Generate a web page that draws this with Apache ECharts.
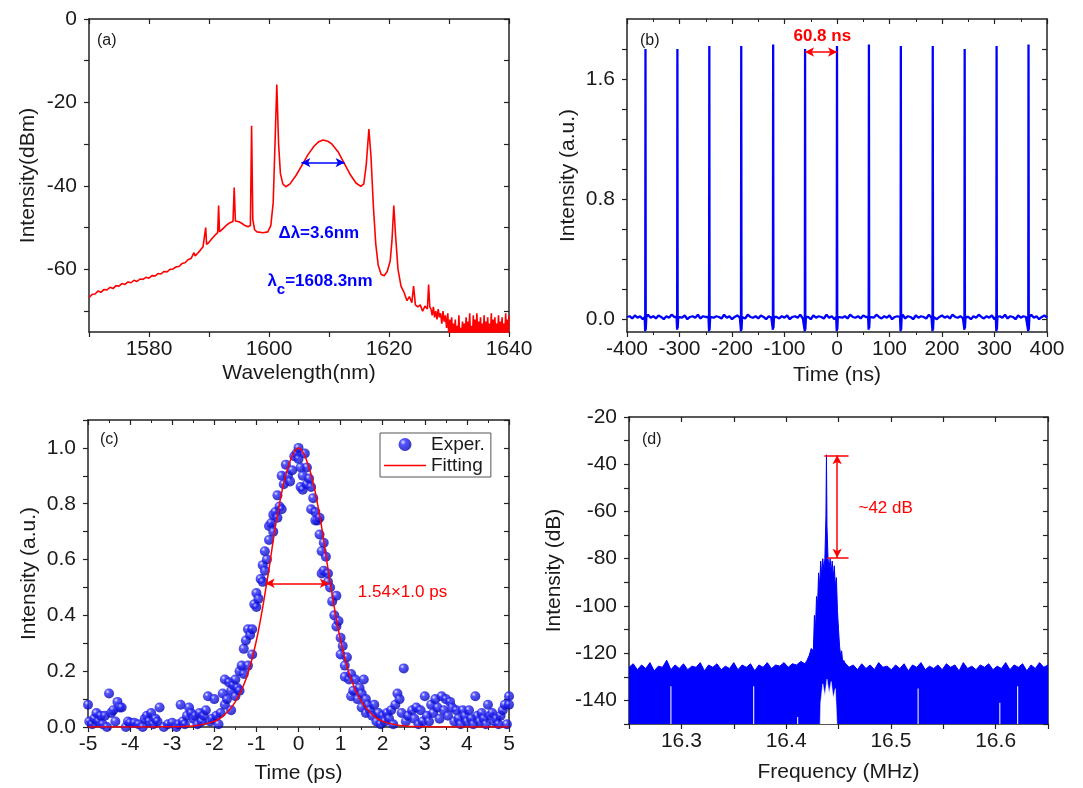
<!DOCTYPE html>
<html><head><meta charset="utf-8">
<script src="https://cdn.jsdelivr.net/npm/echarts@6/dist/echarts.min.js"></script>
<style>html,body{margin:0;padding:0;background:#fff}#c{width:1083px;height:788px}</style>
</head><body><div id="c"></div>
<script>
// ===== Panel (a): optical spectrum [wavelength nm, dBm] =====
const spectrumA = [
[1570,-66.8],[1570.5,-66.0],[1571,-65.9],[1571.5,-65.2],[1572,-65.5],[1572.5,-64.8],[1573,-64.9],[1573.5,-64.3],
[1574,-64.6],[1574.5,-63.9],[1575,-64.0],[1575.5,-63.4],[1576,-63.6],[1576.5,-63.0],[1577,-63.2],[1577.5,-62.6],
[1578,-62.9],[1578.5,-62.3],[1579,-62.4],[1579.5,-61.9],[1580,-62.1],[1580.5,-61.5],[1581,-61.6],[1581.5,-61.0],
[1582,-61.1],[1582.5,-60.5],[1583,-60.6],[1583.5,-60.0],[1584,-59.9],[1584.5,-59.4],[1585,-59.3],[1585.5,-58.6],
[1586,-58.4],[1586.5,-57.7],[1587,-57.4],[1587.5,-56.0],[1587.7,-56.8],[1588,-56.3],[1588.5,-55.5],[1589,-54.6],
[1589.3,-54.2],[1589.45,-50.0],[1589.6,-54.0],[1590,-53.5],[1590.5,-52.6],[1591,-51.8],[1591.45,-51.2],[1591.6,-44.7],
[1591.75,-51.0],[1592,-50.8],[1592.5,-50.0],[1593,-49.3],[1593.5,-48.8],[1594,-48.5],[1594.2,-40.4],[1594.4,-48.4],
[1595,-48.6],[1595.5,-49.0],[1596,-49.5],[1596.5,-49.8],[1596.9,-49.5],[1597.1,-25.6],[1597.3,-48.0],[1597.6,-50.5],
[1598,-51.0],[1599,-51.2],[1599.8,-51.0],[1600.3,-49.5],[1600.7,-44.0],[1601.0,-30.0],[1601.3,-15.7],[1601.6,-30.0],
[1601.9,-37.0],[1602.3,-39.5],[1602.8,-40.2],[1603.5,-39.5],[1604.5,-37.5],[1605.5,-35.0],[1606.5,-32.5],[1607.5,-30.5],
[1608.3,-29.4],[1609,-29.0],[1609.8,-29.3],[1610.5,-30.0],[1611.5,-31.8],[1612.5,-34.5],[1613.5,-37.2],[1614.5,-39.3],
[1615.3,-40.1],[1615.8,-39.5],[1616.2,-35.0],[1616.65,-26.4],[1617.0,-33.0],[1617.4,-45.0],[1617.8,-54.0],[1618.2,-59.0],
[1618.7,-61.2],[1619.2,-61.5],[1619.7,-60.5],[1620.2,-58.0],[1620.5,-53.0],[1620.8,-44.7],[1621.1,-52.0],[1621.5,-60.0],
[1622,-64.0],[1622.5,-65.5],[1623,-67.5],[1623.4,-66.5],[1623.8,-68.0],[1624.1,-64.0],[1624.4,-68.5],[1624.8,-69.0],
[1625.2,-68.5],[1625.6,-70.0],[1626,-68.8],[1626.4,-69.5],[1626.6,-63.6],[1626.8,-69.0],
[1627.0,-69.5],[1627.2,-71],[1627.4,-69],[1627.6,-71.5],[1627.8,-70],[1628.0,-72],[1628.2,-69.5],[1628.4,-71.5],
[1628.6,-70.5],[1628.8,-73],[1629.0,-70],[1629.2,-72.5],[1629.4,-71],[1629.6,-74],[1629.8,-70.5],[1630.0,-77],
[1630.15,-72],[1630.3,-76.5],[1630.45,-71.5],[1630.6,-77],[1630.75,-73],[1630.9,-76],[1631.05,-72],[1631.2,-77],
[1631.35,-73.5],[1631.5,-76.5],[1631.65,-71],[1631.8,-77],[1631.95,-74],[1632.1,-76],[1632.25,-72.5],[1632.4,-77],
[1632.55,-73],[1632.7,-76.5],[1632.85,-71.5],[1633.0,-77],[1633.15,-72.5],[1633.3,-76],[1633.45,-70.5],[1633.6,-77],
[1633.75,-73.5],[1633.9,-76.5],[1634.05,-71],[1634.2,-77],[1634.35,-72],[1634.5,-76],[1634.65,-70.5],[1634.8,-77],
[1634.95,-72.5],[1635.1,-76.5],[1635.25,-71.5],[1635.4,-77],[1635.55,-73],[1635.7,-76],[1635.85,-71],[1636.0,-77],
[1636.15,-72.5],[1636.3,-76.5],[1636.45,-71.5],[1636.6,-77],[1636.75,-73],[1636.9,-76],[1637.05,-70.5],[1637.2,-77],
[1637.35,-72],[1637.5,-76.5],[1637.65,-71.5],[1637.8,-77],[1637.95,-73],[1638.1,-76],[1638.25,-71],[1638.4,-77],
[1638.55,-72.5],[1638.7,-76.5],[1638.85,-71.5],[1639.0,-77],[1639.15,-73],[1639.3,-76],[1639.45,-70.5],[1639.6,-77],
[1639.75,-72],[1639.9,-76.5],[1640,-71]
];
const aXTicks = [1570,1580,1590,1600,1610,1620,1630,1640];
const aXLabels = [1580,1600,1620,1640];
const aYTicks = [-70,-60,-50,-40,-30,-20,-10,0];
const aYLabels = [-60,-40,-20,0];
const aBandwidth = [1605.4,1612.6,-34.4];   // FWHM arrow: from, to, level

// ===== Panel (b): pulse train =====
const pulseTimes   = [-364.8,-304,-243.2,-182.4,-121.6,-60.8,0,60.8,121.6,182.4,243.2,304,364.8];
const pulseHeights = [1.80,1.80,1.82,1.82,1.83,1.80,1.82,1.83,1.82,1.82,1.80,1.82,1.83];
const pulseFloor   = [-0.08,-0.07,-0.08,-0.08,-0.07,-0.08,-0.08,-0.07,-0.08,-0.08,-0.07,-0.08,-0.08];
const baselineB = [
0.015,0.02,0.005,0.025,0.01,0.02,0.0,0.015,0.03,0.01,
0.02,0.005,0.025,0.015,0.0,0.02,0.01,0.03,0.015,0.005,
0.02,0.01,0.025,0.0,0.015,0.02,0.01,0.03,0.005,0.02,
0.015,0.0,0.025,0.01,0.02,0.015,0.005,0.03,0.01,0.02,
0.0,0.015,0.025,0.01,0.02,0.005,0.03,0.015,0.01,0.02,
0.005,0.025,0.015,0.0,0.02,0.01,0.03,0.015,0.005,0.02,
0.01,0.025,0.0,0.015,0.02,0.01,0.03,0.005,0.02,0.015,
0.0,0.025,0.01,0.02,0.015,0.005,0.03,0.01,0.02,0.0,
0.015,0.025,0.01,0.02,0.005,0.03,0.015,0.01,0.02,0.005,
0.025,0.015,0.0,0.02,0.01,0.03,0.015,0.005,0.02,0.01,
0.025,0.0,0.015,0.02,0.01,0.03,0.005,0.02,0.015,0.0,
0.025,0.01,0.02,0.015,0.005,0.03,0.01,0.02,0.0,0.015,
0.025,0.01,0.02,0.005,0.03,0.015,0.01,0.02,0.005,0.025,
0.015,0.0,0.02,0.01,0.03,0.015,0.005,0.02,0.01,0.025,
0.0,0.015,0.02,0.01,0.03,0.005,0.02,0.015,0.0,0.025,
0.01,0.02,0.015,0.005,0.03,0.01,0.02,0.0,0.015,0.025,0.01];
const bYTicks = [0,0.2,0.4,0.6,0.8,1.0,1.2,1.4,1.6,1.8];
const bYLabels = [0,0.8,1.6];
const bPeriod = [-60.8,0,1.78];

// ===== Panel (c): autocorrelation =====
const acScatter = [
[-5.0,0.08],[-4.97,0.02],[-4.9,0.01],[-4.85,0.03],[-4.8,0.05],[-4.75,0.02],[-4.7,0.04],[-4.65,0.01],[-4.6,0.04],[-4.55,0.0],
[-4.5,0.12],[-4.45,0.05],[-4.4,0.06],[-4.35,0.02],[-4.3,0.09],[-4.25,0.07],[-4.2,0.07],[-4.1,0.0],[-4.05,0.02],[-4.0,0.015],
[-3.9,0.015],[-3.8,0.01],[-3.7,0.0],[-3.65,0.03],[-3.6,0.04],[-3.55,0.02],[-3.5,0.05],[-3.45,0.01],[-3.4,0.03],[-3.35,0.02],
[-3.3,0.07],[-3.2,0.0],[-3.1,0.01],[-3.0,0.015],[-2.9,0.0],[-2.85,0.01],[-2.8,0.08],[-2.75,0.02],[-2.7,0.01],[-2.65,0.04],
[-2.6,0.07],[-2.55,0.05],[-2.5,0.03],[-2.45,0.04],[-2.4,0.01],[-2.35,0.05],[-2.3,0.02],[-2.25,0.04],[-2.2,0.06],[-2.15,0.11],
[-2.1,0.02],[-2.05,0.03],[-2.0,0.10],[-1.95,0.04],[-1.9,0.01],
[-1.85,0.05],[-1.8,0.12],[-1.75,0.17],[-1.75,0.08],[-1.7,0.10],[-1.65,0.16],[-1.6,0.13],[-1.6,0.06],[-1.55,0.15],[-1.5,0.17],
[-1.5,0.11],[-1.45,0.14],[-1.4,0.20],[-1.4,0.13],[-1.35,0.22],[-1.3,0.19],[-1.3,0.28],[-1.25,0.31],[-1.2,0.35],[-1.2,0.22],
[-1.15,0.33],[-1.1,0.26],[-1.1,0.35],[-1.05,0.44],[-1.0,0.48],[-1.0,0.43],[-0.95,0.46],[-0.9,0.53],[-0.85,0.52],[-0.85,0.58],
[-0.8,0.63],[-0.8,0.56],[-0.75,0.60],[-0.7,0.67],[-0.7,0.72],[-0.65,0.73],[-0.6,0.70],[-0.6,0.76],[-0.55,0.77],[-0.5,0.83],
[-0.5,0.75],[-0.45,0.79],[-0.4,0.78],[-0.4,0.90],[-0.35,0.87],[-0.3,0.94],[-0.25,0.90],[-0.2,0.88],[-0.15,0.92],[-0.1,0.97],
[-0.05,0.98],[0.0,1.0],[0.0,0.96],[0.05,0.93],[0.05,0.86],[0.1,0.90],[0.1,0.85],[0.15,0.98],[0.2,0.93],[0.2,0.87],
[0.25,0.89],[0.3,0.78],[0.3,0.86],[0.35,0.82],[0.4,0.77],[0.4,0.74],[0.45,0.74],[0.5,0.75],[0.5,0.69],[0.55,0.63],
[0.55,0.55],[0.6,0.66],[0.6,0.56],[0.65,0.61],[0.7,0.55],[0.7,0.52],[0.75,0.50],[0.8,0.45],[0.85,0.40],[0.9,0.36],
[0.9,0.47],[0.95,0.38],[1.0,0.32],[1.0,0.26],[1.05,0.29],[1.1,0.22],[1.1,0.18],[1.15,0.25],[1.2,0.17],[1.25,0.19],
[1.25,0.11],[1.3,0.13],[1.35,0.17],[1.4,0.10],[1.45,0.14],[1.5,0.12],[1.5,0.07],[1.55,0.17],[1.6,0.10],[1.6,0.05],
[1.65,0.08],[1.7,0.06],[1.75,0.04],[1.8,0.08],[1.85,0.02],[1.9,0.05],[1.95,0.01],
[2.0,0.04],[2.05,0.02],[2.1,0.05],[2.15,0.03],[2.2,0.06],[2.25,0.01],[2.3,0.08],[2.35,0.12],[2.4,0.10],[2.45,0.05],
[2.5,0.21],[2.55,0.02],[2.6,0.04],[2.7,0.06],[2.75,0.03],[2.8,0.07],[2.85,0.01],[2.9,0.06],[2.95,0.02],[3.0,0.11],
[3.05,0.04],[3.1,0.02],[3.15,0.08],[3.2,0.05],[3.25,0.10],[3.3,0.07],[3.35,0.03],[3.4,0.11],[3.45,0.06],[3.5,0.10],
[3.55,0.04],[3.6,0.09],[3.65,0.07],[3.7,0.02],[3.75,0.06],[3.8,0.03],[3.85,0.01],[3.9,0.06],[3.95,0.04],[4.0,0.02],
[4.05,0.06],[4.1,0.03],[4.15,0.01],[4.2,0.11],[4.25,0.04],[4.3,0.02],[4.35,0.05],[4.4,0.03],[4.45,0.01],[4.5,0.08],
[4.55,0.04],[4.6,0.05],[4.65,0.02],[4.7,0.03],[4.75,0.01],[4.8,0.04],[4.85,0.06],[4.9,0.08],[4.95,0.01],[5.0,0.11],[5.0,0.08]
];
const fitTime  = [-5,-4,-3,-2.5,-2,-1.75,-1.5,-1.25,-1,-0.75,-0.5,-0.25,0,0.25,0.5,0.75,1,1.25,1.5,1.75,2,2.5,3,4,5];
const fitValue = [0,0,0.001,0.004,0.02,0.045,0.09,0.17,0.31,0.52,0.76,0.93,1.0,0.93,0.76,0.52,0.31,0.17,0.09,0.045,0.02,0.004,0.001,0,0];
const cYTicks = [0,0.1,0.2,0.3,0.4,0.5,0.6,0.7,0.8,0.9,1.0,1.1];
const cYLabels = [0,0.2,0.4,0.6,0.8,1.0];
const cWidth = [-0.78,0.72,0.515];

// ===== Panel (d): RF spectrum =====
const floorLeftVals = [-126,-124.5,-127,-125,-126.5,-124,-127.5,-125.5,-126,-123,-127,-125,-126.5,-124.5,-127,-125.5,-126,-124,
-127.5,-125,-126,-124.5,-127,-125.5,-126.5,-124,-127,-125,-126,-124.5,-127.5,-125,-126,-124,-126.5,-125,-125.5,-124,-126,-124.5,-125,-123.5,-124.5];
const floorRightVals = [-124,-126,-125,-127,-124.5,-126.5,-125,-127,-124,-126,-125.5,-127,-125,-126.5,-124.5,-127.5,-125,-126,-124,
-127,-125.5,-126.5,-125,-127,-124.5,-126,-125,-127.5,-124,-126.5,-125.5,-127,-125,-126,-124.5,-127,-125.5,-126.5,-124,-127,-125,-126,-124.5,-127.5,-125,-126.5,-124,-126,-125];
const rfPeak = [[16.420,-123],[16.422,-121],[16.424,-118],[16.426,-119],[16.427,-104],[16.428,-110],[16.429,-96],[16.430,-100],
[16.431,-86],[16.432,-92],[16.433,-81],[16.434,-87],[16.435,-80],[16.436,-85],[16.437,-80],[16.438,-62],[16.4385,-36],[16.439,-66],
[16.440,-80],[16.441,-84],[16.442,-80],[16.443,-86],[16.444,-81],[16.445,-88],[16.446,-83],[16.447,-92],[16.448,-88],[16.449,-102],
[16.450,-110],[16.451,-117],[16.452,-121],[16.453,-119],[16.454,-124],[16.455,-123]];
const rfNotch = [[16.4325,-150],[16.433,-141],[16.435,-133],[16.437,-138],[16.439,-131],[16.441,-137],[16.443,-132],[16.445,-139],[16.447,-135],[16.4485,-150]];
const rfGapFreq = [16.29,16.369,16.411,16.526,16.604,16.621];
const rfGapTop  = [-134,-134,-147,-135,-141,-134];
const dXTicks = [16.25,16.3,16.35,16.4,16.45,16.5,16.55,16.6,16.65];
const dXLabels = [16.3,16.4,16.5,16.6];
const dYTicks = [-150,-140,-130,-120,-110,-100,-90,-80,-70,-60,-50,-40,-30,-20];
const dYLabels = [-140,-120,-100,-80,-60,-40,-20];
const dSMSR = [16.4365,16.4596,-36.2,16.439,-79.6,16.4487];

// ---------- build series data ----------
const bLine = [];
baselineB.forEach((v,i)=>{
  const t = -400 + 800*i/(baselineB.length-1);
  if (!pulseTimes.some(p=>Math.abs(p-t)<2)) bLine.push([t,v]);
});
pulseTimes.forEach((t,i)=>{
  bLine.push([t-1.6,0.015],[t-0.5,pulseFloor[i]],[t,pulseHeights[i]],[t+0.5,pulseFloor[i]+0.01],[t+1.6,0.015]);
});
bLine.sort((p,q)=>p[0]-q[0]);

const dLine = [];
floorLeftVals.forEach((v,i)=>dLine.push([16.25 + (16.418-16.25)*i/(floorLeftVals.length-1), v]));
rfPeak.forEach(p=>dLine.push(p));
floorRightVals.forEach((v,i)=>dLine.push([16.456 + (16.65-16.456)*i/(floorRightVals.length-1), v]));

const gapLine = [];
rfGapFreq.forEach((f,i)=>{ gapLine.push([f,-150],[f,rfGapTop[i]],[f+0.001,'-']); });

const fitLine = fitTime.map((t,i)=>[t,fitValue[i]]);

// ---------- styling helpers ----------
const AX = '#222', TXT = '#1a1a1a';
const FONT = '"Liberation Sans", Arial, sans-serif';
const RED = '#ff0000', BLUE = '#0000ff';

function xPair(grid, min, max, o) {
  const common = {type:'value', gridIndex:grid, min, max, splitLine:{show:false},
    axisLine:{show:true, onZero:false, lineStyle:{color:AX,width:1.5}}};
  const tick = {show:true, length:5, lineStyle:{color:AX,width:1.2}};
  if (o.ticks) tick.customValues = o.ticks;
  const minor = o.minor?{show:true,splitNumber:2,length:3,lineStyle:{color:AX,width:1}}:{show:false};
  const bottom = Object.assign({}, common, {position:'bottom', interval:o.interval,
    axisTick:Object.assign({inside:false}, tick), minorTick:minor,
    axisLabel:{show:true, customValues:o.labels, fontSize:21, color:TXT, fontFamily:FONT, margin:7, formatter:o.fmt},
    name:o.name, nameLocation:'middle', nameGap:o.nameGap,
    nameTextStyle:{fontSize:21, color:TXT, fontFamily:FONT}});
  const top = Object.assign({}, common, {position:'top', interval:o.interval,
    axisTick:Object.assign({inside:true}, tick), minorTick:minor, axisLabel:{show:false}});
  return [bottom, top];
}
function yPair(grid, min, max, o) {
  const common = {type:'value', gridIndex:grid, min, max, splitLine:{show:false},
    axisLine:{show:true, onZero:false, lineStyle:{color:AX,width:1.5}}};
  const tick = {show:true, length:5, lineStyle:{color:AX,width:1.2}};
  if (o.ticks) tick.customValues = o.ticks;
  const left = Object.assign({}, common, {position:'left',
    axisTick:Object.assign({inside:false}, tick),
    axisLabel:{show:true, customValues:o.labels, fontSize:21, color:TXT, fontFamily:FONT, margin:12, formatter:o.fmt},
    name:o.name, nameLocation:'middle', nameGap:o.nameGap, nameRotate:90,
    nameTextStyle:{fontSize:21, color:TXT, fontFamily:FONT}});
  const right = Object.assign({}, common, {position:'right',
    axisTick:Object.assign({inside:true}, tick), axisLabel:{show:false}});
  return [left, right];
}
const f1 = v => v.toFixed(1);
const fInt = v => String(Math.round(v));

const xAxis = [
  ...xPair(0, 1570, 1640, {ticks:aXTicks, labels:aXLabels, fmt:fInt, name:'Wavelength(nm)', nameGap:31}),
  ...xPair(1, -400, 400, {interval:100, minor:true, fmt:fInt, name:'Time (ns)', nameGap:33}),
  ...xPair(2, -5, 5, {interval:1, minor:true, fmt:fInt, name:'Time (ps)', nameGap:36}),
  ...xPair(3, 16.25, 16.65, {ticks:dXTicks, labels:dXLabels, fmt:f1, name:'Frequency (MHz)', nameGap:38})
];
const yAxis = [
  ...yPair(0, -75, 0, {ticks:aYTicks, labels:aYLabels, fmt:fInt, name:'Intensity(dBm)', nameGap:50}),
  ...yPair(1, -0.085, 2.0, {ticks:bYTicks, labels:bYLabels, fmt:f1, name:'Intensity (a.u.)', nameGap:48}),
  ...yPair(2, 0, 1.1, {ticks:cYTicks, labels:cYLabels, fmt:f1, name:'Intensity (a.u.)', nameGap:48}),
  ...yPair(3, -150, -20, {ticks:dYTicks, labels:dYLabels, fmt:fInt, name:'Intensity (dB)', nameGap:64})
];

function textPoint(coord, text, style) {
  return {coord, symbol:'circle', symbolSize:1, itemStyle:{color:'rgba(0,0,0,0)'},
    label:Object.assign({show:true, position:'inside', formatter:text, fontFamily:FONT}, style)};
}
const arrowLine = (a,b,color) => [{coord:a, symbol:'arrow', symbolSize:[7,9], lineStyle:{color,width:1.5,type:'solid'}},
                                 {coord:b, symbol:'arrow', symbolSize:[7,9]}];
const plainLine = (a,b,color) => [{coord:a, symbol:'none', lineStyle:{color,width:1.5,type:'solid'}},{coord:b, symbol:'none'}];

const sphere = {type:'radial', x:0.35, y:0.32, r:0.75,
  colorStops:[{offset:0,color:'#e0e0ff'},{offset:0.28,color:'#2a2aff'},{offset:1,color:'#0000a8'}]};

const option = {
  animation:false,
  backgroundColor:'#fff',
  title:[
    {text:'(a)', left:92, top:28, textStyle:{fontSize:16, fontWeight:'normal', color:TXT, fontFamily:FONT}},
    {text:'(b)', left:635, top:28, textStyle:{fontSize:16, fontWeight:'normal', color:TXT, fontFamily:FONT}},
    {text:'(c)', left:95, top:427, textStyle:{fontSize:16, fontWeight:'normal', color:TXT, fontFamily:FONT}},
    {text:'(d)', left:637, top:427, textStyle:{fontSize:16, fontWeight:'normal', color:TXT, fontFamily:FONT}}
  ],
  legend:{show:true, orient:'vertical', left:380, top:433, padding:[2,6,2,4], itemGap:2,
    itemWidth:42, itemHeight:13, borderColor:'#555', borderWidth:1, backgroundColor:'#fff',
    textStyle:{fontSize:19, color:TXT, fontFamily:FONT},
    data:[{name:'Exper.', icon:'circle'}, {name:'Fitting', icon:'path://M0,0H42V1.6H0Z', itemStyle:{color:RED}}]},
  grid:[
    {left:89, top:19, width:420, height:313, outerBoundsMode:'none'},
    {left:627, top:19, width:420, height:313, outerBoundsMode:'none'},
    {left:88, top:420, width:421, height:307, outerBoundsMode:'none'},
    {left:629, top:417, width:419, height:307, outerBoundsMode:'none'}
  ],
  xAxis, yAxis,
  series:[
    {name:'spectrum', type:'line', xAxisIndex:0, yAxisIndex:0, data:spectrumA, showSymbol:false, symbol:'none',
      lineStyle:{color:RED, width:1.6}, itemStyle:{color:RED},
      markLine:{silent:true, symbol:'none', label:{show:false}, data:[arrowLine([aBandwidth[0],aBandwidth[2]],[aBandwidth[1],aBandwidth[2]],BLUE)]},
      markPoint:{silent:true, data:[
        textPoint([1608.3,-51.3], 'Δλ=3.6nm', {color:BLUE, fontSize:17, fontWeight:'bold'}),
        textPoint([1608.5,-63.5], '{a|λ}{s|c}{a|=1608.3nm}', {color:BLUE, rich:{
          a:{fontSize:17, fontWeight:'bold', color:BLUE, fontFamily:FONT, lineHeight:22, verticalAlign:'top'},
          s:{fontSize:15, fontWeight:'bold', color:BLUE, fontFamily:FONT, lineHeight:22, padding:[9,0,0,0], verticalAlign:'top'}}})
      ]}},
    {name:'pulses', type:'line', xAxisIndex:2, yAxisIndex:2, data:bLine, showSymbol:false, symbol:'none',
      lineStyle:{color:BLUE, width:2.3}, itemStyle:{color:BLUE},
      markLine:{silent:true, symbol:'none', label:{show:false}, data:[arrowLine([bPeriod[0],bPeriod[2]],[bPeriod[1],bPeriod[2]],RED)]},
      markPoint:{silent:true, data:[textPoint([-28,1.885],'60.8 ns',{color:RED, fontSize:17, fontWeight:'bold'})]}},
    {name:'Exper.', type:'scatter', xAxisIndex:4, yAxisIndex:4, data:acScatter, symbolSize:10,
      itemStyle:{color:sphere}},
    {name:'Fitting', type:'line', xAxisIndex:4, yAxisIndex:4, data:fitLine, smooth:0.4, showSymbol:false, symbol:'none',
      lineStyle:{color:RED, width:1.5}, itemStyle:{color:RED},
      markLine:{silent:true, symbol:'none', label:{show:false}, data:[arrowLine([cWidth[0],cWidth[2]],[cWidth[1],cWidth[2]],RED)]},
      markPoint:{silent:true, data:[textPoint([2.47,0.483],'1.54×1.0 ps',{color:RED, fontSize:17})]}},
    {name:'rf', type:'line', xAxisIndex:6, yAxisIndex:6, data:dLine, showSymbol:false, symbol:'none',
      lineStyle:{color:BLUE, width:1}, itemStyle:{color:BLUE}, areaStyle:{color:BLUE, opacity:1, origin:'start'},
      markLine:{silent:true, symbol:'none', label:{show:false}, data:[
        plainLine([dSMSR[0],dSMSR[2]],[dSMSR[1],dSMSR[2]],RED),
        plainLine([dSMSR[3],dSMSR[4]],[dSMSR[1],dSMSR[4]],RED),
        arrowLine([dSMSR[5],dSMSR[2]],[dSMSR[5],dSMSR[4]],RED)]},
      markPoint:{silent:true, data:[textPoint([16.495,-58.8],'~42 dB',{color:RED, fontSize:17})]}},
    {name:'rfNotch', type:'line', xAxisIndex:6, yAxisIndex:6, data:rfNotch, showSymbol:false, symbol:'none',
      lineStyle:{color:'#fff', width:0.5}, areaStyle:{color:'#fff', opacity:1, origin:'start'}},
    {name:'rfGaps', type:'line', xAxisIndex:6, yAxisIndex:6, data:gapLine, showSymbol:false, symbol:'none',
      connectNulls:false, lineStyle:{color:'#dcdcff', width:1.2}}
  ]
};
const chart = echarts.init(document.getElementById('c'), null, {renderer:'canvas'});
chart.setOption(option);
</script></body></html>
